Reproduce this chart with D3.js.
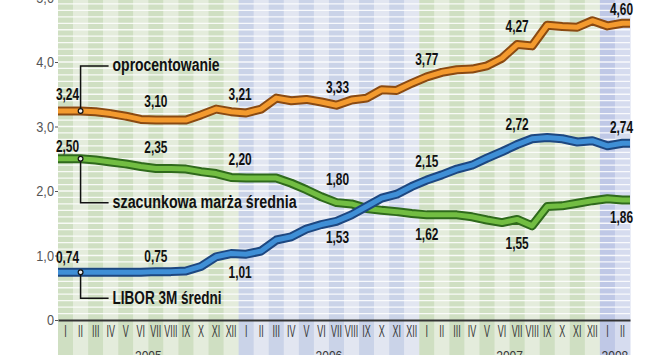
<!DOCTYPE html>
<html><head><meta charset="utf-8">
<script src="https://cdn.jsdelivr.net/npm/d3@7"></script>
<style>
html,body{margin:0;padding:0;background:#fff;}
svg{display:block;}
</style></head>
<body>
<svg id="c" width="665" height="355"></svg>
<script>
// ---- data ----
const years = ["2005", "2006", "2007", "2008"];
const romans = ["I","II","III","IV","V","VI","VII","VIII","IX","X","XI","XII"];
const monthsPerYear = [12, 12, 12, 2];
const oprocentowanie = [
  3.24,3.24,3.23,3.20,3.16,3.11,3.10,3.10,3.10,3.18,3.27,3.23,
  3.21,3.27,3.44,3.40,3.42,3.38,3.33,3.41,3.44,3.57,3.56,3.67,
  3.77,3.84,3.88,3.89,3.94,4.06,4.27,4.25,4.57,4.55,4.54,4.64,
  4.56,4.60];
const marza = [
  2.50,2.50,2.48,2.45,2.42,2.38,2.35,2.35,2.34,2.30,2.27,2.21,
  2.20,2.20,2.20,2.12,2.02,1.91,1.82,1.80,1.73,1.70,1.68,1.65,
  1.63,1.63,1.63,1.60,1.55,1.51,1.56,1.46,1.76,1.77,1.81,1.85,
  1.88,1.86];
const libor = [
  0.74,0.74,0.74,0.74,0.74,0.74,0.75,0.75,0.76,0.83,0.98,1.03,
  1.02,1.07,1.24,1.29,1.41,1.48,1.53,1.63,1.76,1.89,1.95,2.07,
  2.17,2.25,2.34,2.40,2.51,2.61,2.72,2.81,2.83,2.81,2.76,2.78,
  2.70,2.74];
const yTicks = [0, 1, 2, 3, 4, 5];
const seriesNames = ["oprocentowanie", "szacunkowa marża średnia", "LIBOR 3M średni"];
// labelled points: month index and text
const oprLabels = [[0,"3,24"],[6,"3,10"],[12,"3,21"],[18,"3,33"],[24,"3,77"],[30,"4,27"],[37,"4,60"]];
const marzaLabels = [[0,"2,50"],[6,"2,35"],[12,"2,20"],[18,"1,80"],[24,"1,62"],[30,"1,55"],[37,"1,86"]];
const liborLabels = [[0,"0,74"],[6,"0,75"],[12,"1,01"],[18,"1,53"],[24,"2,15"],[30,"2,72"],[37,"2,74"]];

// ---- layout / style (not data) ----
const FONT = "'Liberation Sans', Arial, sans-serif";
const L = 58, R = 630, Y0 = 320, YTOP = -2.5;
const labelDy = {
  opr:   [-11,-13,-13,-12,-12,-13,-8],
  marza: [-7,-15,-13,-18,25,30,23],
  libor: [-9,-10,24,22,-13,-15,-10]
};
const labelDx = [2, 0, -6, 1, 0, 0, -1];
const calloutWidths = [107, 184, 109];

function condense(sel, k) {
  sel.each(function() {
    const t = d3.select(this);
    const tx = +t.attr("x") || 0, ty = +t.attr("y") || 0;
    t.attr("transform", `translate(${tx},${ty}) scale(${k},1)`).attr("x", 0).attr("y", 0);
  });
}

const months = [];
years.forEach((yr, yi) => { for (let m = 0; m < monthsPerYear[yi]; m++) months.push({yi, m}); });
const monthLabels = months.map(d => romans[d.m]);

const svg = d3.select("#c");
const x = d3.scaleBand().domain(d3.range(months.length)).range([L, R]).padding(0);
const bw = x.bandwidth();
const xc = i => x(i) + bw / 2;
const y = d3.scaleLinear().domain([0, 5]).range([Y0, YTOP]);

// background columns
const pal = [
  ["#cfdfc2", "#e4ecdc"],
  ["#cad3e8", "#e2e6f1"],
  ["#cfdfc2", "#e4ecdc"],
  ["#bfc8e6", "#d6dcef"]
];
svg.append("g").selectAll("rect").data(months).join("rect")
  .attr("x", (d, i) => x(i)).attr("y", 0)
  .attr("width", bw + 0.5).attr("height", 355)
  .attr("fill", (d, i) => pal[d.yi][i % 2]);

// horizontal white lines every 0.1
svg.append("g").selectAll("line").data(d3.range(1, 52).map(k => k / 10)).join("line")
  .attr("x1", L).attr("x2", R)
  .attr("y1", d => y(d)).attr("y2", d => y(d))
  .attr("stroke", "#fff").attr("stroke-opacity", 0.85).attr("stroke-width", 1.3);

// series lines
function drawSeries(vals, outer, inner) {
  const pts = [[L, vals[0]]].concat(vals.map((v, i) => [xc(i), v])).concat([[R, vals[vals.length - 1]]]);
  const line = d3.line().x(d => d[0]).y(d => y(d[1]));
  svg.append("path").attr("d", line(pts)).attr("fill", "none")
    .attr("stroke", outer).attr("stroke-width", 9).attr("stroke-linejoin", "round");
  svg.append("path").attr("d", line(pts)).attr("fill", "none")
    .attr("stroke", inner).attr("stroke-width", 5).attr("stroke-linejoin", "round");
}
drawSeries(oprocentowanie, "#8a4a12", "#f39a2e");
drawSeries(marza, "#2f6a1c", "#72bd42");
drawSeries(libor, "#1d4780", "#3f8fd6");

// x axis
const xAxis = svg.append("g").attr("transform", `translate(0,${Y0})`)
  .call(d3.axisBottom(x).tickSize(0).tickSizeOuter(0).tickPadding(5).tickFormat(i => monthLabels[i]));
xAxis.select(".domain").attr("stroke", "#333").attr("stroke-width", 2);
xAxis.selectAll("text").attr("font-family", FONT)
  .attr("font-size", 16).attr("fill", "#3a3a3a").attr("dy", "0.75em");
condense(xAxis.selectAll("text"), 0.56);

// year labels
const yearStart = d3.cumsum([0].concat(monthsPerYear));
const yl = svg.append("g").selectAll("text").data(years).join("text")
  .attr("x", (d, i) => (x(yearStart[i]) + x(yearStart[i + 1] - 1) + bw) / 2)
  .attr("y", 361).attr("text-anchor", "middle")
  .attr("font-family", FONT)
  .attr("font-size", 15).attr("fill", "#3a3a3a").text(d => d);
condense(yl, 0.8);

// y axis
const yAxis = svg.append("g").attr("transform", `translate(${L},0)`)
  .call(d3.axisLeft(y).tickValues(yTicks).tickSize(3).tickPadding(1)
    .tickFormat(d => d === 0 ? "0" : d.toFixed(1).replace(".", ",")));
yAxis.select(".domain").remove();
yAxis.selectAll("line").attr("stroke", "#555");
yAxis.selectAll("text").attr("font-family", FONT)
  .attr("font-size", 15).attr("fill", "#555");
condense(yAxis.selectAll("text"), 0.85);

// value labels
function drawLabels(list, vals, dys) {
  const t = svg.append("g").selectAll("text").data(list).join("text")
    .attr("x", (d, k) => xc(d[0]) + labelDx[k])
    .attr("y", (d, k) => y(vals[d[0]]) + dys[k])
    .attr("text-anchor", "middle")
    .attr("font-family", FONT)
    .attr("font-weight", "bold").attr("font-size", 17).attr("fill", "#111")
    .text(d => d[1]);
  condense(t, 0.7);
}
drawLabels(oprLabels, oprocentowanie, labelDy.opr);
drawLabels(marzaLabels, marza, labelDy.marza);
drawLabels(liborLabels, libor, labelDy.libor);

// series name callouts
const callouts = [
  {vals: oprocentowanie, name: seriesNames[0], dy: -45, tdy: 5},
  {vals: marza, name: seriesNames[1], dy: 44, tdy: 5},
  {vals: libor, name: seriesNames[2], dy: 26, tdy: 6}
];
callouts.forEach((c, k) => {
  const px = xc(1), py = y(c.vals[1]), ly = py + c.dy;
  svg.append("path").attr("d", `M${px},${py}V${ly}H${px + 28}`)
    .attr("fill", "none").attr("stroke", "#111").attr("stroke-width", 1.5);
  svg.append("circle").attr("cx", px).attr("cy", py).attr("r", 2.4)
    .attr("fill", "#eee").attr("stroke", "#111").attr("stroke-width", 1.2);
  svg.append("text").attr("x", px + 32).attr("y", ly + c.tdy)
    .attr("font-family", FONT)
    .attr("font-weight", "bold").attr("font-size", 18).attr("fill", "#111")
    .attr("textLength", calloutWidths[k]).attr("lengthAdjust", "spacingAndGlyphs")
    .text(c.name);
});
</script>
</body></html>
